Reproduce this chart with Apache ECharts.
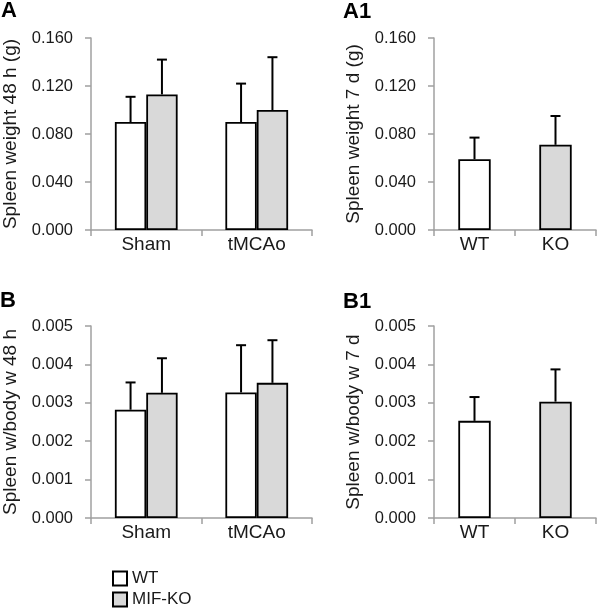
<!DOCTYPE html>
<html>
<head>
<meta charset="utf-8">
<script src="https://cdn.jsdelivr.net/npm/echarts@6/dist/echarts.min.js"></script>
<style>html,body{margin:0;padding:0;background:#fff;}#c{width:600px;height:608px;}</style>
</head>
<body>
<div id="c"></div>
<script>
// ---- data ----
const groupCats = ['Sham', 'tMCAo'];
const genoCats = ['WT', 'KO'];
const legendNames = ['WT', 'MIF-KO'];
const weight48WT = [0.090, 0.090];
const weight48WTsd = [0.021, 0.032];
const weight48KO = [0.113, 0.100];
const weight48KOsd = [0.029, 0.044];
const weight7d = [0.059, 0.071];
const weight7dSd = [0.018, 0.024];
const ratio48WT = [0.00282, 0.00327];
const ratio48WTsd = [0.00071, 0.00123];
const ratio48KO = [0.00326, 0.00352];
const ratio48KOsd = [0.00090, 0.00111];
const ratio7d = [0.00253, 0.00303];
const ratio7dSd = [0.00062, 0.00084];
const weightTicks = {min: 0, max: 0.16, interval: 0.04};
const ratioTicks = {min: 0, max: 0.005, interval: 0.001};

// ---- styles ----
const FONT = 'Liberation Sans, Arial, sans-serif';
const TXT = '#1a1a1a';
const AX = '#a0a0a0';
const WHITE = '#ffffff';
const GRAY = '#d9d9d9';

const grids = [
  {left: 90, top: 38, width: 222, height: 192},
  {left: 434, top: 38, width: 162, height: 192},
  {left: 90, top: 326, width: 222, height: 192},
  {left: 434, top: 326, width: 162, height: 192}
];

function xAx(i, cats) {
  return {
    type: 'category', gridIndex: i, data: cats,
    axisLine: {lineStyle: {color: AX, width: 1.5}},
    axisTick: {show: true, length: 6, lineStyle: {color: AX, width: 1.5}},
    axisLabel: {color: TXT, fontSize: 19, fontFamily: FONT, margin: 5}
  };
}
function yAx(i, t, name) {
  return {
    type: 'value', gridIndex: i, min: t.min, max: t.max, interval: t.interval,
    name: name, nameLocation: 'middle', nameGap: 71,
    nameTextStyle: {color: TXT, fontSize: 19, fontFamily: FONT},
    axisLine: {show: true, lineStyle: {color: AX, width: 1.5}},
    axisTick: {show: true, length: 6, lineStyle: {color: AX, width: 1.5}},
    axisLabel: {color: TXT, fontSize: 16.5, fontFamily: FONT, margin: 18,
      formatter: v => v.toFixed(3)},
    splitLine: {show: false}
  };
}

function errSeries(i, means, sds, offset) {
  return {
    type: 'custom', xAxisIndex: i, yAxisIndex: i, z: 5, silent: true,
    data: means.map((m, k) => [k, m, sds[k]]),
    renderItem: function (params, api) {
      const band = api.size([1, 0])[0];
      const base = api.coord([api.value(0), api.value(1)]);
      const top = api.coord([api.value(0), api.value(1) + api.value(2)]);
      const x = base[0] + offset * band;
      const half = 5;
      return {
        type: 'group',
        children: [
          {type: 'line', shape: {x1: x, y1: base[1], x2: x, y2: top[1]},
           style: {stroke: '#000', lineWidth: 2}},
          {type: 'line', shape: {x1: x - half, y1: top[1], x2: x + half, y2: top[1]},
           style: {stroke: '#000', lineWidth: 2}}
        ]
      };
    }
  };
}

function barSeries(i, name, data, color, width) {
  return {
    type: 'bar', name: name, xAxisIndex: i, yAxisIndex: i,
    data: data, barWidth: width, barGap: '0%',
    itemStyle: {color: color, borderColor: '#000', borderWidth: 1.8}
  };
}

const singleColors = [WHITE, GRAY];
function singleBar(i, data) {
  return {
    type: 'bar', xAxisIndex: i, yAxisIndex: i, barWidth: '40%',
    data: data.map((v, k) => ({value: v, itemStyle: {color: singleColors[k]}})),
    itemStyle: {borderColor: '#000', borderWidth: 1.8}
  };
}

function legendFor(name, top) {
  return {
    data: [name], orient: 'horizontal', left: 112, top: top, padding: 0,
    icon: 'rect', itemWidth: 14, itemHeight: 14,
    textStyle: {color: TXT, fontSize: 17, fontFamily: FONT}
  };
}

const grpOff = 0.142;
const option = {
  animation: false,
  backgroundColor: '#fff',
  textStyle: {fontFamily: FONT},
  title: [
    {text: 'A', left: 1, top: 0},
    {text: 'A1', left: 343, top: 1},
    {text: 'B', left: 0, top: 290},
    {text: 'B1', left: 343, top: 291}
  ].map(t => Object.assign(t, {padding: 0, textStyle: {fontSize: 22, fontWeight: 'bold', color: '#000', fontFamily: FONT}})),
  legend: [legendFor(legendNames[0], 570), legendFor(legendNames[1], 591)],
  grid: grids,
  xAxis: [xAx(0, groupCats), xAx(1, genoCats), xAx(2, groupCats), xAx(3, genoCats)],
  yAxis: [
    yAx(0, weightTicks, 'Spleen weight 48 h (g)'),
    yAx(1, weightTicks, 'Spleen weight 7 d (g)'),
    yAx(2, ratioTicks, 'Spleen w/body w 48 h'),
    yAx(3, ratioTicks, 'Spleen w/body w 7 d')
  ],
  series: [
    barSeries(0, legendNames[0], weight48WT, WHITE, '28.4%'),
    barSeries(0, legendNames[1], weight48KO, GRAY, '28.4%'),
    errSeries(0, weight48WT, weight48WTsd, -grpOff),
    errSeries(0, weight48KO, weight48KOsd, grpOff),
    singleBar(1, weight7d),
    errSeries(1, weight7d, weight7dSd, 0),
    barSeries(2, legendNames[0], ratio48WT, WHITE, '28.4%'),
    barSeries(2, legendNames[1], ratio48KO, GRAY, '28.4%'),
    errSeries(2, ratio48WT, ratio48WTsd, -grpOff),
    errSeries(2, ratio48KO, ratio48KOsd, grpOff),
    singleBar(3, ratio7d),
    errSeries(3, ratio7d, ratio7dSd, 0)
  ]
};
const chart = echarts.init(document.getElementById('c'), null, {renderer: 'canvas'});
chart.setOption(option);
</script>
</body>
</html>
